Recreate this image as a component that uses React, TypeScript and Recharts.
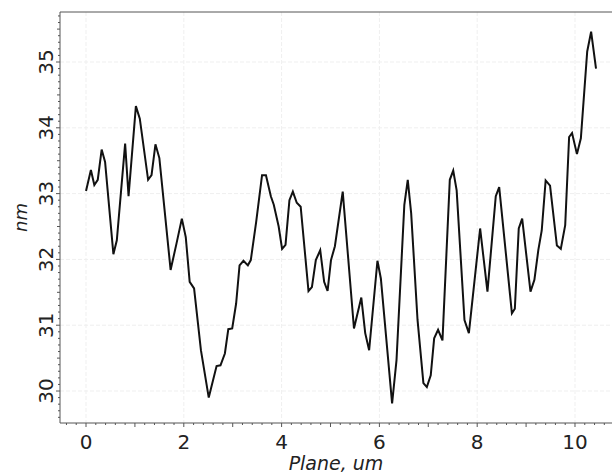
import { LineChart, Line, XAxis, YAxis, CartesianGrid, Label, ReferenceLine } from 'recharts'

// profile points (position in um, height in nm)
const positions = [
  0.0, 0.1, 0.17, 0.24, 0.32, 0.39, 0.56, 0.63, 0.8, 0.87,
  1.02, 1.1, 1.27, 1.34, 1.42, 1.5, 1.73, 1.85, 1.96, 2.04,
  2.12, 2.21, 2.35, 2.51, 2.67, 2.75, 2.84, 2.91, 2.99, 3.07,
  3.14, 3.22, 3.31, 3.37, 3.48, 3.6, 3.68, 3.78, 3.84, 3.94,
  4.01, 4.08, 4.16, 4.23, 4.31, 4.39, 4.55, 4.62, 4.7, 4.79,
  4.87, 4.94, 5.01, 5.09, 5.25, 5.48, 5.63, 5.71, 5.79, 5.96,
  6.03, 6.26, 6.35, 6.51, 6.58, 6.65, 6.78, 6.9, 6.97, 7.05,
  7.12, 7.2, 7.29, 7.44, 7.51, 7.58, 7.74, 7.83, 8.06, 8.21,
  8.38, 8.45, 8.71, 8.77, 8.85, 8.92, 9.09, 9.17, 9.25, 9.32,
  9.4, 9.49, 9.63, 9.71, 9.8, 9.88, 9.94, 10.04, 10.12, 10.25,
  10.33, 10.43,
]
const heights = [
  33.04, 33.36, 33.13, 33.21, 33.67, 33.48, 32.08, 32.29, 33.76, 32.96,
  34.33, 34.14, 33.21, 33.28, 33.75, 33.54, 31.84, 32.24, 32.62, 32.34,
  31.66, 31.56, 30.62, 29.9, 30.38, 30.39, 30.57, 30.94, 30.95, 31.33,
  31.91, 31.98, 31.91, 31.99, 32.57, 33.28, 33.28, 32.96, 32.83, 32.5,
  32.16, 32.22, 32.9, 33.03, 32.86, 32.8, 31.52, 31.58, 31.99, 32.14,
  31.66, 31.52, 31.99, 32.2, 33.03, 30.95, 31.42, 30.88, 30.62, 31.98,
  31.71, 29.81, 30.47, 32.83, 33.21, 32.7, 31.08, 30.12, 30.06, 30.24,
  30.8, 30.93, 30.77, 33.21, 33.35, 33.05, 31.08, 30.88, 32.47, 31.51,
  32.96, 33.1, 31.18, 31.25, 32.47, 32.62, 31.51, 31.69, 32.14, 32.44,
  33.2, 33.12, 32.21, 32.16, 32.52, 33.86, 33.92, 33.6, 33.84, 35.16,
  35.46, 34.9,
]

const xLabels = [0, 2, 4, 6, 8, 10]
const yLabels = [30, 31, 32, 33, 34, 35]
const xMinorStep = 0.2
const yMinorStep = 0.1
const xDomain = [-0.532, 10.757]
const yDomain = [29.514, 35.76]

const data = positions.map((x, i) => ({ x, h: heights[i] }))

const xTicks: number[] = []
for (let i = -2; i <= 53; i++) xTicks.push(+(i * xMinorStep).toFixed(2))
const yTicks: number[] = []
for (let i = 296; i <= 357; i++) yTicks.push(+(i * yMinorStep).toFixed(2))

const font = 'DejaVu Sans, sans-serif'
const axisColor = '#555'

const near = (v: number, step: number) => Math.abs(v / step - Math.round(v / step)) < 1e-6

function XTick({ x, y, payload }: any) {
  const v = payload.value
  const len = near(v, 1) ? 4 : 2
  return (
    <g>
      <line x1={x} x2={x} y1={y} y2={y + len} stroke={axisColor} />
      {xLabels.includes(v) && (
        <text x={x} y={y + 26} textAnchor="middle" fontSize={20} fontFamily={font} fill="#222">
          {v}
        </text>
      )}
    </g>
  )
}

function YTick({ x, y, payload }: any) {
  const v = payload.value
  const len = near(v, 1) ? 4 : near(v, 0.5) ? 3 : 2
  return (
    <g>
      <line x1={x} x2={x - len} y1={y} y2={y} stroke={axisColor} />
      {yLabels.includes(v) && (
        <text
          x={53}
          y={y}
          transform={`rotate(-90, 53, ${y})`}
          textAnchor="middle"
          fontSize={20}
          fontFamily={font}
          fill="#222"
        >
          {v}
        </text>
      )}
    </g>
  )
}

function YTitle({ viewBox }: any) {
  const cx = viewBox.x + 27
  const cy = viewBox.y + viewBox.height / 2
  return (
    <text x={cx} y={cy} transform={`rotate(-90, ${cx}, ${cy})`} textAnchor="middle"
      fontSize={18} fontStyle="italic" fontFamily={font} fill="#222">
      nm
    </text>
  )
}

function XTitle({ viewBox }: any) {
  return (
    <text x={viewBox.x + viewBox.width / 2} y={470} textAnchor="middle"
      fontSize={19} fontStyle="italic" fontFamily={font} fill="#222">
      Plane, um
    </text>
  )
}

export default function App() {
  return (
    <div style={{ position: 'absolute', left: 0, top: 0, background: '#fff' }}>
      <LineChart width={612} height={474} data={data} margin={{ top: 12, right: 0, bottom: 0, left: 0 }}>
        <CartesianGrid
          stroke="#efefef"
          strokeDasharray="4 2"
          verticalValues={xLabels}
          horizontalValues={yLabels}
        />
        <XAxis
          dataKey="x"
          type="number"
          domain={xDomain}
          allowDataOverflow
          ticks={xTicks}
          interval={0}
          tickSize={0}
          tickMargin={0}
          tickLine={false}
          tick={<XTick />}
          height={51}
          stroke={axisColor}
        >
          <Label content={<XTitle />} />
        </XAxis>
        <YAxis
          type="number"
          domain={yDomain}
          allowDataOverflow
          ticks={yTicks}
          interval={0}
          tickSize={0}
          tickMargin={0}
          tickLine={false}
          tick={<YTick />}
          width={60}
          stroke={axisColor}
        >
          <Label content={<YTitle />} />
        </YAxis>
        <ReferenceLine y={yDomain[1]} stroke={axisColor} strokeWidth={1} />
        <Line
          dataKey="h"
          type="linear"
          stroke="#111"
          strokeWidth={2}
          dot={false}
          isAnimationActive={false}
        />
      </LineChart>
    </div>
  )
}
